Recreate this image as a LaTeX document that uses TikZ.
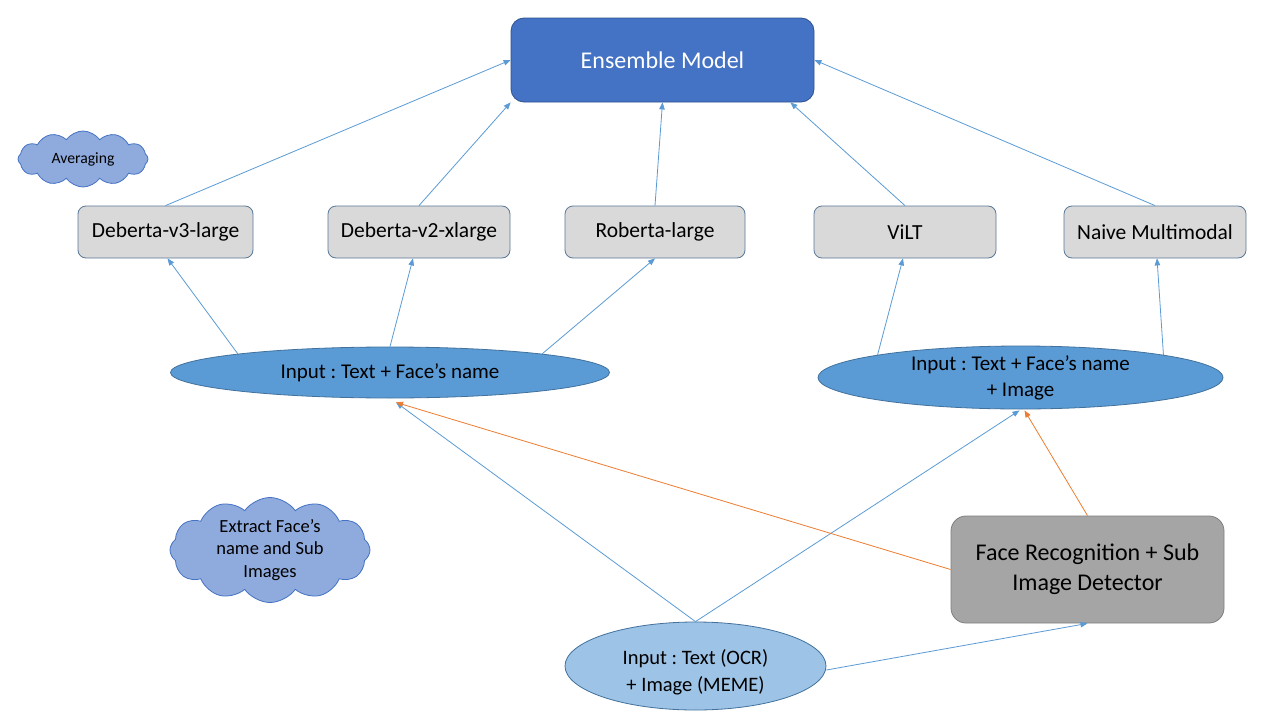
\documentclass[tikz,border=0pt]{standalone}
\usepackage{fontspec}
\setmainfont{Carlito}
\usetikzlibrary{shapes.geometric,shapes.symbols,arrows.meta}
\definecolor{ensfill}{HTML}{4472C4}
\definecolor{ensborder}{HTML}{2F528F}
\definecolor{boxfill}{HTML}{D9D9D9}
\definecolor{boxborder}{HTML}{5A7898}
\definecolor{ellfill}{HTML}{5B9BD5}
\definecolor{ellborder}{HTML}{41719C}
\definecolor{ell3fill}{HTML}{9DC3E6}
\definecolor{fbfill}{HTML}{A5A5A5}
\definecolor{fbborder}{HTML}{7F7F7F}
\definecolor{cloudfill}{HTML}{8FAADC}
\definecolor{cloudborder}{HTML}{4472C4}
\definecolor{lineblue}{HTML}{5B9BD5}
\definecolor{lineorange}{HTML}{ED7D31}
\tikzset{
  modelbox/.style={draw=boxborder, fill=boxfill, rounded corners=8pt, line width=0.8pt,
    minimum width=182pt, minimum height=52pt, inner sep=0pt, font=\fontsize{21.5}{24}\selectfont},
  inell/.style={ellipse, draw=ellborder, fill=ellfill, line width=0.8pt, inner sep=0pt,
    align=center, font=\fontsize{21}{26}\selectfont},
  cloudnode/.style={cloud, cloud puffs=12, cloud puff arc=110, cloud ignores aspect,
    draw=cloudborder, fill=cloudfill, line width=0.8pt, inner sep=0pt, align=center},
  conn/.style={draw=lineblue, line width=0.8pt, -{Triangle[length=7pt,width=5.5pt]}},
  oconn/.style={draw=lineorange, line width=0.8pt, -{Triangle[length=7pt,width=5.5pt]}},
}
\begin{document}
\frenchspacing
\begin{tikzpicture}[x=1pt,y=-1pt]
\useasboundingbox[fill=white] (0,0) rectangle (1280,720);
% nodes
\node[draw=ensborder, fill=ensfill, rounded corners=13pt, line width=0.8pt, minimum width=303pt,
  minimum height=84pt, inner sep=0pt, text=white, font=\fontsize{24}{28}\selectfont]
  (ens) at (662.5,60) {Ensemble Model};
\node[modelbox, minimum width=175pt] (d3) at (165.5,232) {Deberta-v3-large};
\node[modelbox] (d2) at (419,232) {Deberta-v2-xlarge};
\node[modelbox, minimum width=180pt] (rob) at (655,232) {Roberta-large};
\node[modelbox] (vilt) at (905,232) {ViLT};
\node[modelbox] (naive) at (1155,232) {Naive Multimodal};
\node[inell, minimum width=439pt, minimum height=51pt] (e1) at (390,372.5) {Input : Text + Face’s name};
\node[inell, minimum width=405pt, minimum height=63pt] (e2) at (1020.5,377.5) {Input : Text + Face’s name\\+ Image};
\node[inell, fill=ell3fill, minimum width=261pt, minimum height=88pt,
  font=\fontsize{20.5}{27}\selectfont] (e3) at (695.5,666)
  {\raisebox{-7pt}[\height][\depth]{\begin{tabular}{@{}c@{}}Input : Text (OCR)\\+ Image (MEME)\end{tabular}}};
\node[draw=fbborder, fill=fbfill, rounded corners=15pt, line width=0.8pt, minimum width=273pt,
  minimum height=107pt, inner sep=0pt, align=center, font=\fontsize{24}{30}\selectfont]
  (fb) at (1087.5,569.5) {Face Recognition + Sub\\Image Detector};
\node[cloudnode, minimum width=130pt, minimum height=56pt, font=\fontsize{15.7}{18}\selectfont]
  (avg) at (83,159) {Averaging};
\node[cloudnode, minimum width=200pt, minimum height=105pt, font=\fontsize{18.5}{22.5}\selectfont]
  (ext) at (270,550) {Extract Face’s\\name and Sub\\Images};
% connectors to ensemble
\draw[conn] (d3.north) -- (ens.west);
\draw[conn] (d2.north) -- (ens.south west);
\draw[conn] (rob.north) -- (ens.south);
\draw[conn] (vilt.north) -- ([xshift=-24pt]ens.south east);
\draw[conn] (naive.north) -- (ens.east);
% ellipses to models
\draw[conn] (e1.173) -- ([xshift=2pt]d3.south);
\draw[conn] (e1.north) -- ([xshift=-6pt]d2.south);
\draw[conn] (e1.7) -- (rob.south);
\draw[conn] (e2.171) -- ([xshift=-2pt]vilt.south);
\draw[conn] (e2.9) -- ([xshift=2pt]naive.south);
% from meme input
\draw[conn] (e3.north) -- ([xshift=6pt,yshift=-4pt]e1.south);
\draw[conn] (e3.north) -- ([xshift=-1pt,yshift=-1pt]e2.south);
\draw[conn] ([yshift=-4pt]e3.east) -- (fb.south);
% face recognition outputs
\draw[oconn] (fb.west) -- ([xshift=6pt,yshift=-4pt]e1.south);
\draw[oconn] (fb.north) -- ([xshift=4pt,yshift=-1pt]e2.south);
\end{tikzpicture}
\end{document}
